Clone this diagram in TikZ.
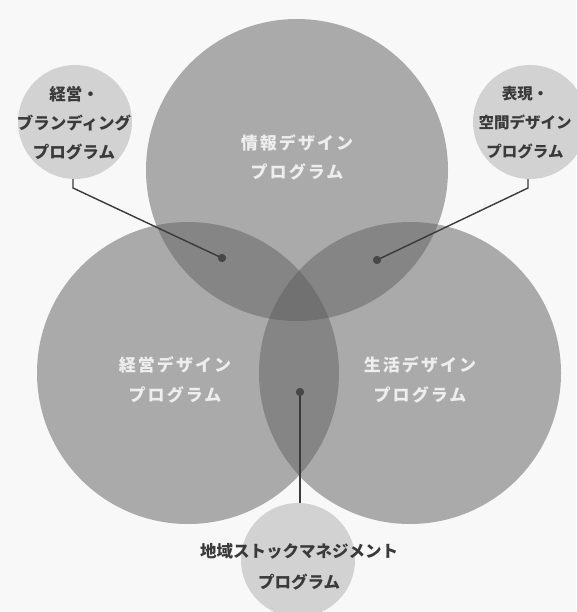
\documentclass[tikz,border=0pt]{standalone}
\usepackage{fontspec}
\setmainfont{Noto Sans CJK JP}
\newfontfamily\jp{Noto Sans CJK JP}
\newfontfamily\jpsp{Noto Sans CJK JP}[LetterSpace=12]
\usetikzlibrary{shapes.geometric}
\definecolor{bgc}{HTML}{F8F8F8}
\definecolor{onec}{HTML}{AAAAAA}
\definecolor{twoc}{HTML}{858585}
\definecolor{threec}{HTML}{717171}
\definecolor{smallfill}{HTML}{D2D2D2}
\definecolor{inkc}{HTML}{3A3A3A}
\definecolor{wtxt}{HTML}{EEEEEE}
\definecolor{dotc}{HTML}{474747}
\definecolor{linec}{HTML}{3A3A3A}
\begin{document}
\begin{tikzpicture}[x=1pt,y=-1pt,
  smallc/.style={circle, fill=smallfill, minimum size=114pt, inner sep=0pt},
  dot/.style={circle, fill=dotc, minimum size=8pt, inner sep=0pt},
  conn/.style={draw=linec, line width=1.4pt},
  smalltxt/.style={font=\jp\bfseries\fontsize{16.5}{29}\selectfont, text=inkc, align=center, inner sep=0pt},
  bigtxt/.style={font=\jpsp\bfseries\fontsize{17}{30}\selectfont, text=wtxt, align=center, inner sep=0pt}]
\fill[bgc] (0,0) rectangle (576,612);
\useasboundingbox (0,0) rectangle (576,612);
% big circles
\fill[onec] (297,170) circle[radius=151pt];
\fill[onec] (188,373) circle[radius=151pt];
\fill[onec] (410,373) circle[radius=151pt];
\begin{scope}
  \clip (297,170) circle[radius=151pt];
  \fill[twoc] (188,373) circle[radius=151pt];
  \fill[twoc] (410,373) circle[radius=151pt];
\end{scope}
\begin{scope}
  \clip (188,373) circle[radius=151pt];
  \fill[twoc] (410,373) circle[radius=151pt];
\end{scope}
\begin{scope}
  \clip (297,170) circle[radius=151pt];
  \clip (188,373) circle[radius=151pt];
  \fill[threec] (410,373) circle[radius=151pt];
\end{scope}
% dots and corners
\node[dot] (d1) at (222,258) {};
\node[dot] (d2) at (377,260) {};
\node[dot] (d3) at (300,392) {};
\coordinate (k1) at (73,188);
\coordinate (k2) at (528,188);
% small circles
\node[smallc] (s1) at (75,122) {};
\node[smallc] (s2) at (530,122) {};
\node[smallc] (s3) at (298,560) {};
% connectors
\draw[conn] (d1.center) -- (k1) -- (k1 |- s1.south);
\draw[conn] (d2.center) -- (k2) -- (k2 |- s2.south);
\draw[conn] (d3.center) -- (d3 |- s3.north);
\node[dot] at (d1) {};
\node[dot] at (d2) {};
\node[dot] at (d3) {};
% texts
\node[smalltxt] (t1) at (74,123) {経営・\\ブランディング\\プログラム};
\node[smalltxt, font=\jp\bfseries\fontsize{15.5}{29}\selectfont] (t2) at (525,123) {表現・\\空間デザイン\\プログラム};
\node[smalltxt, font=\jp\bfseries\fontsize{16.5}{31}\selectfont] (t3) at (299,567) {地域ストックマネジメント\\プログラム};
\node[bigtxt, font=\jpsp\bfseries\fontsize{17}{29}\selectfont] (t4) at (297,157) {情報デザイン\\プログラム};
\node[bigtxt] (t5) at (175,380) {経営デザイン\\プログラム};
\node[bigtxt] (t6) at (420,380) {生活デザイン\\プログラム};
\end{tikzpicture}
\end{document}
